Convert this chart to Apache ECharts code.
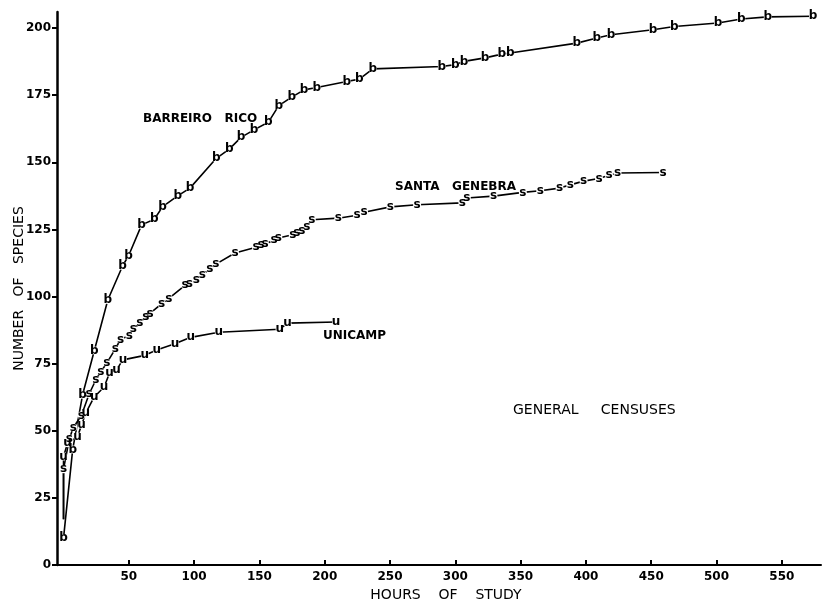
<!DOCTYPE html>
<html>
<head>
<meta charset="utf-8">
<title>General censuses</title>
<script src="https://cdn.jsdelivr.net/npm/echarts@6/dist/echarts.min.js"></script>
<style>
  html, body { margin: 0; padding: 0; background: #fff; }
  #chart { width: 837px; height: 601px; }
</style>
</head>
<body>
<div id="chart"></div>
<script>
// [hours of study, number of species]
var barreiroRico = [
  [0, 10], [7, 43], [14.6, 63.4], [23.6, 79.9], [33.9, 98.7], [45.2, 111.4], [49.8, 115.2],
  [59.8, 126.7], [69.5, 128.8], [75.9, 133.5], [87.4, 137.5], [96.8, 140.4], [117, 151.5],
  [126.9, 154.9], [135.9, 159.3], [145.8, 162.1], [156.8, 164.9], [164.8, 171.1], [174.7, 174.3],
  [184.2, 177], [193.9, 177.9], [216.9, 180.1], [226.5, 181], [236.8, 184.8], [289.7, 185.7],
  [300, 186.4], [306.7, 187.6], [322.8, 188.9], [335.6, 190.3], [342, 190.7], [393.1, 194.4],
  [408.4, 196.3], [419.2, 197.5], [451.3, 199.4], [467.7, 200.6], [501.1, 201.9], [519, 203.4],
  [539.2, 204.2], [573.9, 204.4]
];
var santaGenebra = [
  [0, 35.7], [4.5, 47.1], [7.5, 51.2], [13.7, 55.7], [19.6, 63.7], [24.8, 69], [28.6, 72],
  [33.2, 75.3], [39.7, 80.5], [43.6, 84], [50.3, 85.5], [53.4, 87.8], [58.5, 90.2], [63.1, 92.6],
  [66.2, 93.7], [75, 97.3], [80.7, 99.3], [93, 104.2], [96.3, 104.8], [101.6, 106.3], [106.2, 108.2],
  [112.1, 110.2], [116.7, 112.1], [131.3, 116.2], [147.4, 118.4], [151.2, 119.3], [154.3, 119.5],
  [161.2, 121.1], [164.5, 121.8], [175.5, 123], [178.6, 123.6], [182.4, 124.6], [186.2, 126.1],
  [190.1, 128.6], [210.4, 129.2], [224.8, 130.3], [230.1, 131.4], [250.3, 133.4], [270.7, 134.2],
  [305.4, 134.9], [308.8, 136.7], [329.2, 137.4], [351.7, 138.8], [365, 139.4], [379.8, 140.4],
  [388, 141.6], [398.2, 143], [410, 144], [417.7, 145.2], [424.2, 146], [459, 146.2]
];
var unicamp = [
  [0, 40.4], [3.1, 45.4], [10.8, 47.9], [13.8, 52.2], [17.1, 56.7], [23.5, 62.6], [31.1, 66.3],
  [35.3, 71.6], [40.6, 72.8], [45.5, 76.4], [62.3, 78.1], [71.3, 80.1], [85.3, 82.4], [97.4, 84.8],
  [118.9, 86.7], [165.5, 87.8], [171.5, 90.1], [208.7, 90.5]
];
// where the s and u curves leave the axis (no letter drawn there)
var santaGenebraStart = [0, 17];
var unicampStart = [0, 17];

var xTicks = [50, 100, 150, 200, 250, 300, 350, 400, 450, 500, 550];
var yTicks = [0, 25, 50, 75, 100, 125, 150, 175, 200];

var font = '"DejaVu Sans", sans-serif';

function censusSeries (name, letter, points, start) {
  var data = points.slice();
  if (start) {
    data.unshift({ value: start, symbol: 'none', label: { show: false } });
  }
  return {
    name: name,
    type: 'line',
    data: data,
    symbol: 'circle',
    symbolSize: 8,
    showAllSymbol: true,
    itemStyle: { color: '#fff', borderWidth: 0 },
    lineStyle: { color: '#000', width: 1.6 },
    label: {
      show: true,
      position: 'inside',
      formatter: letter,
      color: '#000',
      fontFamily: font,
      fontWeight: 'bold',
      fontSize: 12
    },
    emphasis: { disabled: true }
  };
}

var chart = echarts.init(document.getElementById('chart'));
chart.setOption({
  backgroundColor: '#fff',
  animation: false,
  grid: { left: 57, right: 16, top: 12, bottom: 36, containLabel: false, outerBoundsMode: 'none' },
  xAxis: {
    type: 'value',
    min: -5,
    max: 580,
    name: 'HOURS    OF    STUDY',
    nameLocation: 'middle',
    nameGap: 20,
    nameTextStyle: { color: '#000', fontFamily: font, fontSize: 14, padding: [0, 0, 0, 14] },
    splitLine: { show: false },
    axisLine: { onZero: false, lineStyle: { color: '#000', width: 2 } },
    axisTick: { inside: true, length: 5, customValues: xTicks, lineStyle: { color: '#000', width: 2 } },
    axisLabel: { customValues: xTicks, margin: 6, color: '#000', fontFamily: font, fontWeight: 'bold', fontSize: 12 }
  },
  yAxis: {
    type: 'value',
    min: 0,
    max: 206,
    name: 'NUMBER   OF   SPECIES',
    nameLocation: 'middle',
    nameGap: 31,
    nameMoveOverlap: false,
    nameTextStyle: { color: '#000', fontFamily: font, fontSize: 14 },
    splitLine: { show: false },
    axisLine: { show: true, onZero: false, lineStyle: { color: '#000', width: 2.5 } },
    axisTick: { show: true, length: 5, customValues: yTicks, lineStyle: { color: '#000', width: 2 } },
    axisLabel: { customValues: yTicks, margin: 6, color: '#000', fontFamily: font, fontWeight: 'bold', fontSize: 12 }
  },
  graphic: [
    { type: 'text', left: 143, top: 113, style: { text: 'BARREIRO   RICO', font: 'bold 12px ' + font, fill: '#000' } },
    { type: 'text', left: 395, top: 181, style: { text: 'SANTA   GENEBRA', font: 'bold 12px ' + font, fill: '#000' } },
    { type: 'text', left: 323, top: 330, style: { text: 'UNICAMP', font: 'bold 12px ' + font, fill: '#000' } },
    { type: 'text', left: 513, top: 403, style: { text: 'GENERAL     CENSUSES', font: '14px ' + font, fill: '#000' } }
  ],
  series: [
    censusSeries('Barreiro Rico', 'b', barreiroRico),
    censusSeries('Santa Genebra', 's', santaGenebra, santaGenebraStart),
    censusSeries('Unicamp', 'u', unicamp, unicampStart)
  ]
});
</script>
</body>
</html>
